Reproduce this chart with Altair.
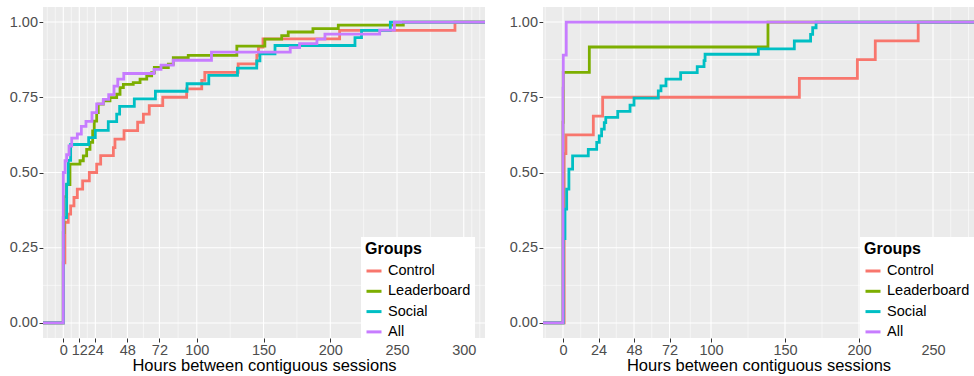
import altair as alt
import pandas as pd

GROUPS = ["Control", "Leaderboard", "Social", "All"]
COLORS = ["#F8766D", "#7CAE00", "#00BFC4", "#C77CFF"]

# ---------------- left panel (hours, cumulative proportion) ----------------
l_control_h = [0, 1.2, 3.7, 5.5, 8, 10.5, 14.5, 19.5, 25, 28, 37.5, 38.7, 45.5, 55.7, 60, 64.4,
               74.5, 92.4, 103.7, 106, 131, 145, 146.2, 149.6, 207, 293.4]
l_control_p = [0.2, 0.334, 0.362, 0.389, 0.417, 0.445, 0.472, 0.5, 0.528, 0.556, 0.583, 0.611,
               0.639, 0.667, 0.694, 0.722, 0.75, 0.778, 0.806, 0.833, 0.861, 0.889, 0.917, 0.944,
               0.972, 1.0]

l_leader_h = [0, 0.5, 2.5, 5, 12.5, 15, 17.5, 20, 22, 23.2, 25, 26.2, 30, 35, 40, 42.5, 45, 52.4,
              57.5, 62.5, 66.2, 68.2, 78.7, 82.4, 93.6, 130, 151, 163.6, 168.5, 187, 206, 254.7]
l_leader_p = [0.3, 0.42, 0.46, 0.528, 0.539, 0.555, 0.577, 0.6, 0.638, 0.671, 0.699, 0.727, 0.738,
              0.749, 0.76, 0.782, 0.793, 0.799, 0.81, 0.821, 0.832, 0.849, 0.86, 0.882, 0.889,
              0.92, 0.943, 0.955, 0.967, 0.978, 0.99, 1.0]

l_social_h = [0, 2.5, 3.7, 5.5, 19, 24, 33.7, 40, 42.2, 53.2, 69, 92.7, 109, 130.5, 144.9, 147.3,
              158.6, 218.5, 223.4, 245]
l_social_p = [0.35, 0.461, 0.54, 0.593, 0.616, 0.64, 0.669, 0.694, 0.72, 0.745, 0.77, 0.795,
              0.823, 0.847, 0.871, 0.894, 0.922, 0.948, 0.972, 1.0]

l_all_h = [0, 1.3, 2.5, 4.3, 6.3, 10.5, 13.5, 17, 21.5, 25, 30, 34, 38, 40.8, 45.3, 68, 73.2,
           82.4, 111, 170, 177, 190, 196, 237, 248]
l_all_p = [0.5, 0.539, 0.559, 0.588, 0.614, 0.628, 0.653, 0.67, 0.699, 0.728, 0.743, 0.759,
           0.787, 0.81, 0.829, 0.843, 0.857, 0.873, 0.9, 0.915, 0.928, 0.943, 0.96, 0.973, 1.0]

# ---------------- right panel ----------------
r_control_h = [0.8, 2, 20.5, 26.8, 159.7, 198.9, 211, 240]
r_control_p = [0.5625, 0.625, 0.6875, 0.75, 0.8125, 0.875, 0.9375, 1.0]

r_leader_h = [0, 0.2, 17.8, 138.5]
r_leader_p = [0.667, 0.833, 0.917, 1.0]

r_social_h = [0.2, 1.35, 2.5, 4, 6.5, 17.1, 22.8, 24.5, 26.1, 27.9, 28.9, 37, 45.3, 48, 64.4,
              66.2, 69.6, 79.5, 90.7, 95.3, 96, 132, 156.3, 167.3, 168.7, 171]
r_social_p = [0.28, 0.378, 0.445, 0.511, 0.555, 0.577, 0.6, 0.622, 0.644, 0.666, 0.683, 0.703,
              0.724, 0.747, 0.771, 0.788, 0.81, 0.832, 0.852, 0.872, 0.893, 0.911, 0.937, 0.959,
              0.981, 1.0]

r_all_h = [0, 0.2, 2.2]
r_all_p = [0.78, 0.89, 1.0]

# axis breaks
l_x_major = [0, 12, 24, 48, 72, 100, 150, 200, 250, 300]
l_x_minor = [-12, -6, 6, 18, 36, 60, 86, 125, 175, 225, 275, 306, 312]
r_x_major = [0, 24, 48, 72, 100, 150, 200, 250]
r_x_minor = [-12, 12, 36, 60, 86, 125, 175, 225, 262, 274]
y_major = [0, 0.25, 0.5, 0.75, 1.0]
y_minor = [0.125, 0.375, 0.625, 0.875]


def build(series):
    rows = []
    for g in GROUPS:
        hs, ps = series[g]
        rows.append({"group": g, "h": -1000.0, "p": 0.0})
        for h, p in zip(hs, ps):
            rows.append({"group": g, "h": h, "p": p})
        rows.append({"group": g, "h": 1000.0, "p": 1.0})
    return pd.DataFrame(rows)


left_df = build({
    "Control": (l_control_h, l_control_p),
    "Leaderboard": (l_leader_h, l_leader_p),
    "Social": (l_social_h, l_social_p),
    "All": (l_all_h, l_all_p),
})
right_df = build({
    "Control": (r_control_h, r_control_p),
    "Leaderboard": (r_leader_h, r_leader_p),
    "Social": (r_social_h, r_social_p),
    "All": (r_all_h, r_all_p),
})

FONT = "Liberation Sans"
XTITLE = "Hours between contiguous sessions"


def panel(df, xdom, width, xmajor, xminor, lx):
    xs = alt.Scale(domain=xdom, nice=False, zero=False)
    ys = alt.Scale(domain=[-0.05, 1.05], nice=False, zero=False)
    xax = alt.Axis(values=xmajor, title=XTITLE, format="d", labelOverlap=False,
                   labelFlush=False, labelPadding=1, titlePadding=1)
    yax = alt.Axis(values=y_major, format=".2f", title=None, labelPadding=1.5,
                   minExtent=36, maxExtent=36)

    def xrule(vals, w):
        return alt.Chart(pd.DataFrame({"v": vals})).mark_rule(
            color="white", strokeWidth=w, clip=True
        ).encode(x=alt.X("v:Q", scale=xs, axis=xax, title=XTITLE))

    def yrule(vals, w):
        return alt.Chart(pd.DataFrame({"v": vals})).mark_rule(
            color="white", strokeWidth=w, clip=True
        ).encode(y=alt.Y("v:Q", scale=ys, axis=yax, title=None))

    lines = alt.Chart(df).mark_line(
        interpolate="step-after", strokeWidth=2.8, clip=True
    ).encode(
        x=alt.X("h:Q", scale=xs, axis=xax, title=XTITLE),
        y=alt.Y("p:Q", scale=ys, axis=yax, title=None),
        color=alt.Color("group:N", scale=alt.Scale(domain=GROUPS, range=COLORS),
                        legend=alt.Legend(
                            title="Groups", orient="none", legendX=lx, legendY=230,
                            fillColor="white", padding=4, symbolType="stroke",
                            symbolSize=225, symbolStrokeWidth=3, labelFontSize=14.5,
                            titleFontSize=16, titleFontWeight="bold", titleColor="black",
                            labelColor="black", rowPadding=4.3, titlePadding=5,
                            labelOffset=5, labelFont=FONT, titleFont=FONT,
                        )),
        detail="group:N",
    )
    return alt.layer(
        xrule(xminor, 0.55), yrule(y_minor, 0.55), xrule(xmajor, 1.1), yrule(y_major, 1.1), lines
    ).properties(width=width, height=331)


left = panel(left_df, [-15.2, 315.9], 442, l_x_major, l_x_minor, 318)
right = panel(right_df, [-13.5, 277.7], 431, r_x_major, r_x_minor, 317)

chart = alt.hconcat(left, right, spacing=22).resolve_legend(color="independent").properties(
    padding={"left": 7, "top": 7, "right": 0, "bottom": 0}
).configure_view(fill="#EBEBEB", strokeWidth=0).configure_axis(
    labelFont=FONT, titleFont=FONT, labelFontSize=14.5, titleFontSize=16.5,
    titleFontWeight="normal", labelColor="#4D4D4D", titleColor="black",
    tickColor="#333333", tickSize=4, tickWidth=1, domain=False, grid=False,
)

chart.save("out.html", embed_options={"renderer": "svg", "actions": False})
